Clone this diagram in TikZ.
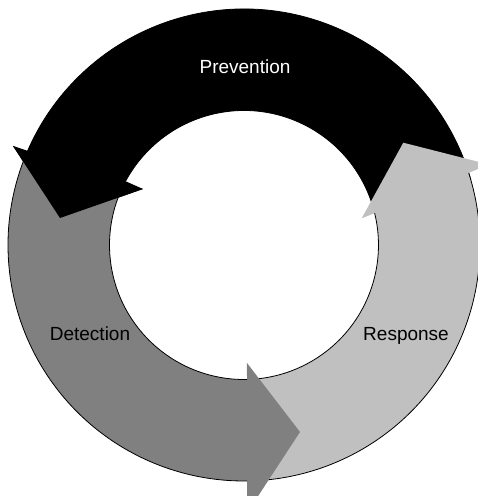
\documentclass[tikz,border=0pt]{standalone}
\usepackage{fontspec}
\setmainfont{Liberation Sans}
\usepackage{tikz}
\definecolor{detgray}{HTML}{808080}
\definecolor{resgray}{HTML}{C0C0C0}

\begin{document}
\begin{tikzpicture}[x=1pt, y=1pt,
    rim/.style={line width=0.8pt},
    phase/.style={anchor=base, font=\fontsize{19}{23}\selectfont}]
  \useasboundingbox (-244,-251) rectangle (234,245);
  \clip (-244,-251) rectangle (234,245);
  % prevention
  \fill[black] (16:134.5) -- (16:236) arc[start angle=16, end angle=156.7, radius=236]
    -- (-231,99) -- (-184,27) -- (-101,56) -- (151.7:134.5)
    arc[start angle=151.7, end angle=16, radius=134.5] -- cycle;
  \draw[rim] (16:236) arc[start angle=16, end angle=156.7, radius=236];
  \draw[rim] (16:134.5) arc[start angle=16, end angle=151.7, radius=134.5];
  % response
  \fill[resgray] (-86:134.5) -- (-86:236) arc[start angle=-86, end angle=17.8, radius=236]
    -- (245,80.5) -- (159.3,102.3) -- (117.7,26.7) -- (13.7:134.5)
    arc[start angle=13.7, end angle=-86, radius=134.5] -- cycle;
  \draw[rim] (-86:236) arc[start angle=-86, end angle=17.8, radius=236];
  \draw[rim] (-86:134.5) arc[start angle=-86, end angle=13.7, radius=134.5];
  % detection
  \fill[detgray] (158:134.5) -- (158:236) arc[start angle=158, end angle=270.73, radius=236]
    -- (3,-268) -- (56,-187) -- (3,-118) -- (271.28:134.5)
    arc[start angle=271.28, end angle=158, radius=134.5] -- cycle;
  \draw[rim] (158:236) arc[start angle=158, end angle=270.73, radius=236];
  \draw[rim] (158:134.5) arc[start angle=158, end angle=271.28, radius=134.5];
  % head of prevention again, over the tail of detection
  \fill[black] (-231,99) -- (-184,27) -- (-101,56) -- cycle;
  %\fill[black] (156.7:236) -- (-231,99) -- (-184,27) -- (-101,56) -- (151.7:134.5) -- cycle;

  \node[phase, text=white] (prevention) at (1,171.7) {Prevention};
  \node[phase] (detection) at (-154,-95.7) {Detection};
  \node[phase] (response) at (162,-95) {Response};
\end{tikzpicture}
\end{document}
